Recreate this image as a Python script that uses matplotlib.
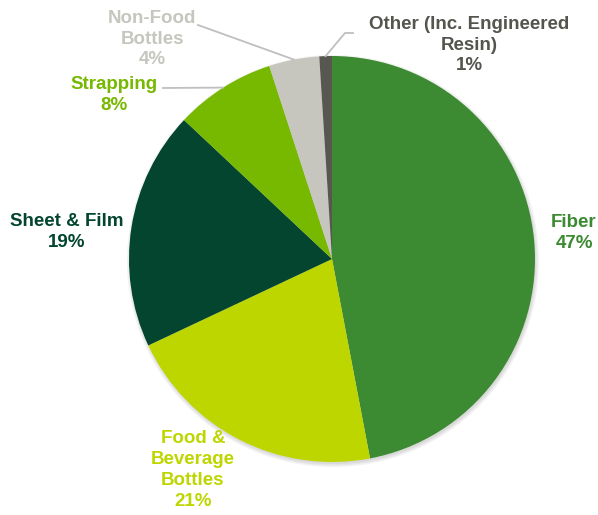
import numpy as np
import matplotlib.pyplot as plt

# PET end-use shares (%), clockwise from 12 o'clock
labels = ['Fiber', 'Food &\nBeverage\nBottles', 'Sheet & Film', 'Strapping',
          'Non-Food\nBottles', 'Other (Inc. Engineered\nResin)']
shares = [47, 21, 19, 8, 4, 1]
colors = ['#3C8A31', '#BED600', '#03452F', '#77B800', '#C6C6BE', '#58574F']
text_colors = ['#3C8A31', '#BED600', '#03452F', '#77B800', '#C6C6BE', '#55554F']

W, H = 598, 515
cx, cy, r = 332, H - 259, 203

# label anchor positions in pixels (x, y from top)
label_pos = [(574, 233), (193, 470), (67, 232), (114, 95), (152, 39), (469, 45)]
# leader line start (from top), None = no leader
leader_start = [None, None, None, (163, 88), (198, 25), (353, 33)]

fig = plt.figure(figsize=(W / 100, H / 100), dpi=100)
ax = fig.add_axes([0, 0, 1, 1])

# soft shadow
for k in range(3):
    sh = plt.Circle((cx + 1, cy - 2), r + 3 - k * 1.5, color='black', alpha=0.05, lw=0)
    ax.add_patch(sh)

wedges, _ = ax.pie(shares, colors=colors, startangle=90, counterclock=False,
                   center=(cx, cy), radius=r, frame=True,
                   wedgeprops=dict(linewidth=0))
ax.set_xlim(0, W)
ax.set_ylim(0, H)
ax.set_aspect('equal')
ax.axis('off')

for i, w in enumerate(wedges):
    txt = f"{labels[i]}\n{shares[i]}%"
    x, y = label_pos[i]
    ax.text(x, H - y, txt, ha='center', va='center', color=text_colors[i],
            fontsize=13.5, fontweight='bold', family=['Liberation Sans', 'DejaVu Sans'],
            linespacing=1.3)
    if leader_start[i] is not None:
        mid = np.deg2rad((w.theta1 + w.theta2) / 2)
        ex, ey = cx + r * np.cos(mid), cy + r * np.sin(mid)
        sx, sy = leader_start[i]
        if i == 5:
            ax.plot([sx, sx - 8, ex], [H - sy, H - sy, ey], color='#BFBFBF', lw=1.3)
        else:
            ax.plot([sx, ex], [H - sy, ey], color='#BFBFBF', lw=1.3)

fig.savefig('out.png', dpi=100, facecolor='white')
